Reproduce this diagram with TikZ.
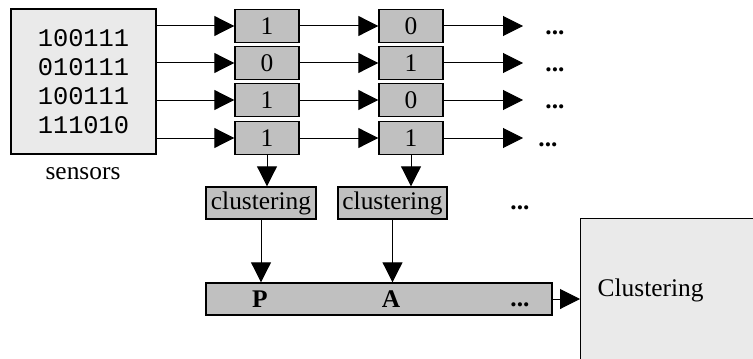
\documentclass[tikz,border=0pt]{standalone}
\usepackage{fontspec}
\setmainfont{Liberation Serif}
\setmonofont{Liberation Mono}
\usetikzlibrary{arrows.meta}
\definecolor{bitgray}{RGB}{192,192,192}
\definecolor{panelgray}{RGB}{234,234,234}

\begin{document}
\begin{tikzpicture}[x=0.5pt, y=-0.5pt,
    font=\fontsize{12.7}{15.2}\selectfont,
    % small grey boxes (bits, clustering, result bar)
    bitbox/.style={draw, line width=0.7pt, fill=bitgray, minimum width=32pt, minimum height=16.5pt, inner sep=0pt},
    % large light boxes
    panel/.style={draw, line width=0.7pt, fill=panelgray, inner sep=0pt},
    arr/.style={-{Triangle[length=10pt,width=10pt]}, line width=0.5pt}]

    % Fix the frame of the picture
    \useasboundingbox (0,0) rectangle (753,358);
    \clip (0,0) rectangle (753,358);

    % Sensor readings
    \node[panel, minimum width=72.5pt, minimum height=72.5pt, align=center,
          font=\ttfamily\fontsize{12.7}{14.5}\selectfont] (sens) at (83.5,81.5)
          {100111\\010111\\100111\\111010};
    \node (senslabel) at (83,174) {sensors};

    % Two columns of bits, one row per sensor
    \foreach \i/\a/\b/\y/\dx in {1/1/0/26/555, 2/0/1/63/555, 3/1/0/100/555, 4/1/1/138/548} {
        \node[bitbox] (a\i) at (267,\y) {\a};
        \node[bitbox] (b\i) at (411,\y) {\b};
        \coordinate (e\i) at (523,\y);
        \node (d\i) at (\dx,\y+7) {\textbf{...}};
        \draw[arr] (sens.east |- a\i.west) -- (a\i.west);
        \draw[arr] (a\i) -- (b\i);
        \draw[arr] (b\i) -- (e\i);
    }

    % Clustering of each column
    \node[bitbox, minimum width=55pt, minimum height=16pt] (clu1) at (261,203) {clustering};
    \node[bitbox, minimum width=54.5pt, minimum height=16pt] (clu2) at (392.5,203) {clustering};
    \node (clud) at (520,208) {\textbf{...}};
    \draw[arr] (a4.south) -- (a4.south |- clu1.north);
    \draw[arr] (b4.south) -- (b4.south |- clu2.north);

    % Sequence of cluster labels
    \node[bitbox, minimum width=173pt, minimum height=16pt] (bar) at (379,299) {};
    \node (P) at (260,299) {\textbf{P}};
    \node (A) at (391,299) {\textbf{A}};
    \node (bard) at (520,305) {\textbf{...}};
    \draw[arr] (clu1.south) -- (clu1.south |- bar.north);
    \draw[arr] (clu2.south) -- (clu2.south |- bar.north);

    % Final clustering
    \node[panel, anchor=north west, minimum height=72pt, text width=80pt,
          inner xsep=8.5pt, align=left] (final) at (580,218) {Clustering};
    \draw[arr] (bar.east) -- (bar.east -| final.west);
\end{tikzpicture}
\end{document}
